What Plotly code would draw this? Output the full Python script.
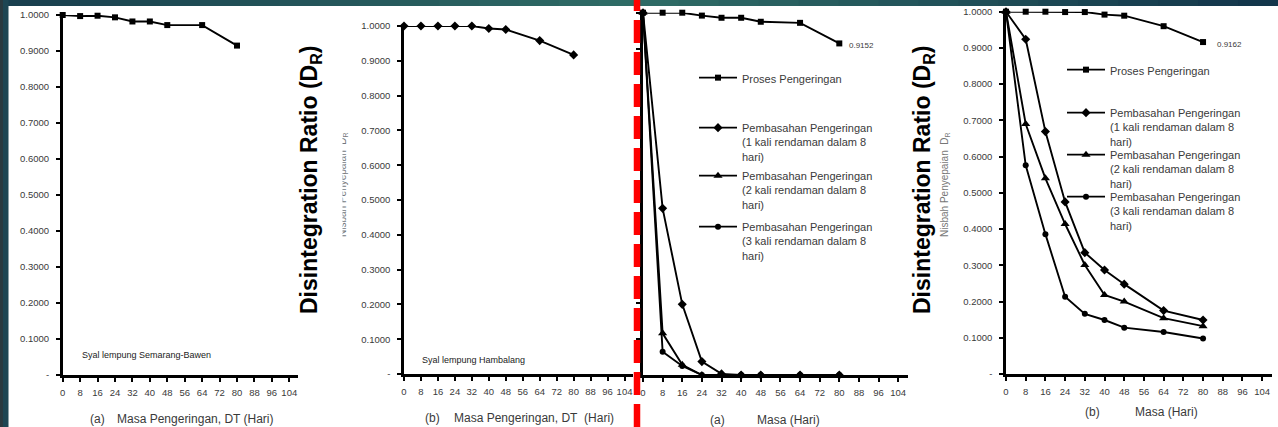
import plotly.graph_objects as go

W, H = 1278, 427

# ---------------- data ----------------
days = [0, 8, 16, 24, 32, 40, 48, 64, 80]
semarang_bawen = [1.0000, 0.9970, 0.9980, 0.9935, 0.9820, 0.9820, 0.9720, 0.9720, 0.9150]
hambalang = [1.0000, 1.0000, 1.0000, 1.0000, 1.0000, 0.9930, 0.9900, 0.9580, 0.9170]

a_proses = [1.0000, 1.0000, 1.0000, 0.9920, 0.9860, 0.9860, 0.9750, 0.9720, 0.9152]
a_1kali = [1.0000, 0.4600, 0.1950, 0.0370, 0.0030, 0.0000, 0.0000, 0.0000, 0.0000]
a_2kali = [1.0000, 0.1150, 0.0280, 0.0000, 0.0000, 0.0000, 0.0000, 0.0000, 0.0000]
a_3kali = [1.0000, 0.0640, 0.0250, 0.0000, 0.0000, 0.0000, 0.0000, 0.0000, 0.0000]

b_proses = [1.0000, 1.0000, 1.0000, 0.9990, 0.9990, 0.9920, 0.9890, 0.9600, 0.9162]
b_1kali = [1.0000, 0.9240, 0.6690, 0.4750, 0.3350, 0.2870, 0.2480, 0.1750, 0.1490]
b_2kali = [1.0000, 0.6900, 0.5400, 0.4140, 0.3010, 0.2180, 0.2000, 0.1540, 0.1320]
b_3kali = [1.0000, 0.5760, 0.3860, 0.2130, 0.1660, 0.1490, 0.1280, 0.1160, 0.0980]

x_ticks = list(range(0, 105, 8))
y_ticks = [i / 10 for i in range(11)]
y_ticktext = ["-"] + [f"{v:.4f}" for v in y_ticks[1:]]

legend_names = [
    "Proses Pengeringan",
    "Pembasahan Pengeringan<br>(1 kali rendaman dalam 8<br>hari)",
    "Pembasahan Pengeringan<br>(2 kali rendaman dalam 8<br>hari)",
    "Pembasahan Pengeringan<br>(3 kali rendaman dalam 8<br>hari)",
]
symbols = ["square", "diamond", "triangle-up", "circle"]
msizes = [6, 7, 8, 6]

FONT = "Liberation Sans, Arial, sans-serif"
TXT = "#3a3a3a"


def px(x):
    return x / W


def py(y):
    return 1 - y / H


fig = go.Figure()

# panel geometry (pixel positions of axis lines)
panels = [
    dict(x0=62.7, x1=298, ytop=15, ybot=375, labels=True),
    dict(x0=404, x1=633, ytop=26, ybot=374, labels=True),
    dict(x0=643, x1=908, ytop=12.7, ybot=375, labels=False),
    dict(x0=1006, x1=1272, ytop=11.7, ybot=374, labels=True),
]

for i, p in enumerate(panels):
    sfx = "" if i == 0 else str(i + 1)
    fig.layout["xaxis" + sfx] = dict(
        domain=[px(p["x0"]), px(p["x1"])], range=[0, 108], automargin=False,
        anchor="y" + sfx, tickvals=x_ticks, ticks="outside", ticklen=4,
        tickwidth=2, tickcolor="black", showline=True, linecolor="black",
        linewidth=2.5, showgrid=False, zeroline=False,
        tickfont=dict(family=FONT, size=9.5, color=TXT), ticklabelstandoff=3,
    )
    fig.layout["yaxis" + sfx] = dict(
        domain=[py(p["ybot"]), py(p["ytop"])], range=[0, 1], automargin=False,
        anchor="x" + sfx, tickvals=y_ticks, ticktext=y_ticktext,
        showticklabels=p["labels"], ticks="outside", ticklen=4, tickwidth=2,
        tickcolor="black", showline=True, linecolor="black", linewidth=2.5,
        showgrid=False, zeroline=False,
        tickfont=dict(family=FONT, size=9.5, color=TXT), ticklabelstandoff=5,
    )

line = dict(color="black", width=1.9)

fig.add_trace(go.Scatter(x=days, y=semarang_bawen, mode="lines+markers", line=line,
                         marker=dict(symbol="square", size=6, color="black"),
                         xaxis="x", yaxis="y", showlegend=False, cliponaxis=False))
fig.add_trace(go.Scatter(x=days, y=hambalang, mode="lines+markers", line=line,
                         marker=dict(symbol="diamond", size=7, color="black"),
                         xaxis="x2", yaxis="y2", showlegend=False, cliponaxis=False))

series_a = [a_proses, a_1kali, a_2kali, a_3kali]
series_b = [b_proses, b_1kali, b_2kali, b_3kali]

# legend first-line positions (px)
leg_a = [(694, 64), (694, 114), (694, 162), (694, 213)]
leg_b = [(1062, 56), (1062, 99), (1062, 141), (1062, 183)]

for k in range(4):
    lname = "legend" if k == 0 else f"legend{k + 1}"
    fig.add_trace(go.Scatter(x=days, y=series_a[k], mode="lines+markers", line=line,
                             marker=dict(symbol=symbols[k], size=msizes[k], color="black"),
                             xaxis="x3", yaxis="y3", name=legend_names[k],
                             legend=lname, cliponaxis=False))
    fig.layout[lname] = dict(x=px(leg_a[k][0]), y=py(leg_a[k][1]), xanchor="left",
                             yanchor="top", valign="top", bgcolor="rgba(0,0,0,0)",
                             font=dict(family=FONT, size=11, color=TXT), itemwidth=38)
for k in range(4):
    lname = f"legend{k + 5}"
    fig.add_trace(go.Scatter(x=days, y=series_b[k], mode="lines+markers", line=line,
                             marker=dict(symbol=symbols[k], size=msizes[k], color="black"),
                             xaxis="x4", yaxis="y4", name=legend_names[k],
                             legend=lname, cliponaxis=False))
    fig.layout[lname] = dict(x=px(leg_b[k][0]), y=py(leg_b[k][1]), xanchor="left",
                             yanchor="top", valign="top", bgcolor="rgba(0,0,0,0)",
                             font=dict(family=FONT, size=11, color=TXT), itemwidth=38)

ann = []
# value labels at last drying point
ann.append(dict(x=days[-1], y=a_proses[-1], xref="x3", yref="y3", text=f"{a_proses[-1]:.4f}",
                xanchor="left", yanchor="middle", xshift=8, yshift=-2, showarrow=False,
                font=dict(family=FONT, size=8, color=TXT)))
ann.append(dict(x=days[-1], y=b_proses[-1], xref="x4", yref="y4", text=f"{b_proses[-1]:.4f}",
                xanchor="left", yanchor="middle", xshift=12, yshift=-2, showarrow=False,
                font=dict(family=FONT, size=8, color=TXT)))

# sample names
ann.append(dict(x=px(80), y=py(355), xref="paper", yref="paper", text="Syal lempung Semarang-Bawen",
                xanchor="left", yanchor="middle", showarrow=False,
                font=dict(family=FONT, size=9, color="#222")))
ann.append(dict(x=px(420), y=py(360), xref="paper", yref="paper", text="Syal lempung Hambalang",
                xanchor="left", yanchor="middle", showarrow=False,
                font=dict(family=FONT, size=9, color="#222")))

# x-axis titles
xt = [
    ("(a)", 88, 419), ("Masa Pengeringan, DT (Hari)", 115, 419),
    ("(b)", 423, 418), ("Masa Pengeringan, DT\u00a0 (Hari)", 452, 418),
    ("(a)", 708, 420), ("Masa (Hari)", 755, 420),
    ("(b)", 1083, 412), ("Masa (Hari)", 1133, 412),
]
for t, x, y in xt:
    ann.append(dict(x=px(x), y=py(y), xref="paper", yref="paper", text=t, xanchor="left",
                    yanchor="middle", showarrow=False, font=dict(family=FONT, size=12, color=TXT)))

# faint original axis titles
for x in (343, 945):
    ann.append(dict(x=px(x), y=py(185), xref="paper", yref="paper",
                    text="Nisbah Penyepaian \u00a0D<sub>R</sub>", textangle=-90,
                    xanchor="center", yanchor="middle", showarrow=False,
                    font=dict(family=FONT, size=10, color="#777")))
# white mask over part of the faint text in panel b
ann.append(dict(x=px(338), y=py(185), xref="paper", yref="paper", text=" ", width=5, height=150,
                bgcolor="white", showarrow=False, xanchor="center", yanchor="middle"))

# big axis titles
for x in (310, 923):
    ann.append(dict(x=px(x), y=py(180), xref="paper", yref="paper",
                    text="<b>Disintegration Ratio (D<sub>R</sub>)</b>", textangle=-90,
                    xanchor="center", yanchor="middle", showarrow=False,
                    font=dict(family=FONT, size=23, color="black")))

shapes = []
# top band (solid base, then gradient strips)
shapes.append(dict(type="rect", xref="paper", yref="paper", x0=0, x1=1, y0=0.986, y1=1.0,
                   fillcolor="#245458", line=dict(width=0), layer="above"))
stops = [(0.0, (0x18, 0x3e, 0x4d)), (0.5, (0x2f, 0x6c, 0x66)), (1.0, (0x12, 0x34, 0x4a))]
N = 32
for i in range(N):
    t = (i + 0.5) / N
    (ta, ca), (tb, cb) = (stops[0], stops[1]) if t < 0.5 else (stops[1], stops[2])
    u = (t - ta) / (tb - ta)
    c = tuple(int(round(a + (b - a) * u)) for a, b in zip(ca, cb))
    shapes.append(dict(type="rect", xref="paper", yref="paper",
                       x0=i / N, x1=min(1.0, (i + 1) / N + 0.0008), y0=0.986, y1=1.0,
                       fillcolor="#%02x%02x%02x" % c, line=dict(width=0), layer="above"))
# left bar
shapes.append(dict(type="rect", xref="paper", yref="paper", x0=0, x1=px(8.5), y0=0, y1=1,
                   fillcolor="#1e4653", line=dict(width=0), layer="above"))
shapes.append(dict(type="rect", xref="paper", yref="paper", x0=0, x1=px(3), y0=0, y1=1,
                   fillcolor="#2a3a40", line=dict(width=0), layer="above"))
# red dashed separator
shapes.append(dict(type="line", xref="paper", yref="paper", x0=px(637), x1=px(637), y0=0, y1=1,
                   line=dict(color="#ff0000", width=6.5, dash="23px,9px"), layer="above"))

fig.update_layout(
    width=W, height=H, autosize=False, margin=dict(l=0, r=0, t=0, b=0, pad=0),
    paper_bgcolor="white", plot_bgcolor="white", showlegend=True,
    annotations=ann, shapes=shapes,
)

fig.write_html(
    "out.html",
    config={"displayModeBar": False},
    post_script="document.body.style.margin='0';document.body.style.padding='0';"
                "document.body.style.overflow='hidden';",
)
